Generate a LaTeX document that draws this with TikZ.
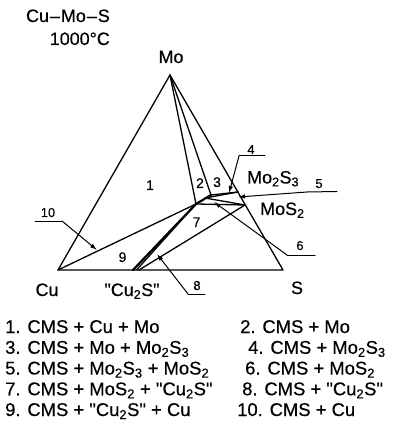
\documentclass[tikz,border=0pt]{standalone}
\usepackage{fontspec}
\setmainfont{Liberation Sans}[FakeBold=0.4]
\usetikzlibrary{arrows.meta}
\newcommand{\qq}{\textquotedbl}
\begin{document}
\begin{tikzpicture}[x=1bp,y=-1bp,line join=round,line cap=round,
  ph/.style={line width=1.3bp},
  thk/.style={line width=2.2bp},
  lead/.style={line width=1bp},
  ar/.style={lead,-{Latex[length=7bp,width=4.5bp]}},
  big/.style={font=\fontsize{18}{20}\selectfont,inner sep=0pt},
  lst/.style={font=\fontsize{18.5}{20}\selectfont,inner sep=0pt,anchor=base west},
  reg/.style={font=\fontsize{14}{16}\selectfont,inner sep=0pt,anchor=base},
  num/.style={font=\fontsize{13}{15}\selectfont,inner sep=0pt,anchor=base}]
\useasboundingbox (0,0) rectangle (400,435);
% vertices and phase points
\coordinate (Mo) at (170,75);
\coordinate (Cu) at (58,270);
\coordinate (S) at (283,270);
\coordinate (C1) at (196,204);
\coordinate (C2) at (211,195);
\coordinate (Cm) at (205,198);
\coordinate (M23) at (238,192);
\coordinate (M12) at (245,205);
\coordinate (Ka) at (133,270);
\coordinate (Kb) at (136.5,270);
\coordinate (Kc) at (139,270);
% triangle
\draw[ph] (Mo) -- (Cu) -- (S) -- cycle;
% tie lines
\draw[ph] (Mo) -- (C1);
\draw[ph] (Mo) -- (C2);
\draw[ph] (Cu) -- (C1);
\draw[thk] (C1) -- (C2);
\draw[ph] (C2) -- (M23);
\draw[ph] (Cm) -- (M23);
\draw[ph] (Cm) -- (M12);
\draw[ph] (C1) -- (M12);
\draw[thk] (Ka) -- (C1);
\draw[ph] (Kb) -- (C1);
\draw[ph] (Kc) -- (M12);
% leaders
\coordinate (a4) at (239,156); \coordinate (b4) at (265,156); \coordinate (t4) at (229,193);
\coordinate (a5) at (307,192); \coordinate (b5) at (337,191.5); \coordinate (t5) at (238,197);
\coordinate (a6) at (287,255); \coordinate (b6) at (315,255); \coordinate (t6) at (214,202);
\coordinate (a8) at (188,294); \coordinate (b8) at (205,294); \coordinate (t8) at (157,254);
\coordinate (a10) at (62,221); \coordinate (b10) at (35,221); \coordinate (t10) at (97,250);
\draw[lead] (b4) -- (a4); \draw[ar] (a4) -- (t4);
\draw[lead] (b5) -- (a5); \draw[ar] (a5) -- (t5);
\draw[lead] (b6) -- (a6); \draw[ar] (a6) -- (t6);
\draw[lead] (b8) -- (a8); \draw[ar] (a8) -- (t8);
\draw[lead] (b10) -- (a10); \draw[ar] (a10) -- (t10);
% leader numbers
\node[num] (n4) at (251,154) {4};
\node[num] (n5) at (319,188) {5};
\node[num] (n6) at (300,250) {6};
\node[num] (n8) at (197,290) {8};
\node[num] (n10) at (48,217) {10};
% region numbers
\node[reg] (r1) at (150,190) {1};
\node[reg] (r2) at (200,188) {2};
\node[reg] (r3) at (217,187) {3};
\node[reg] (r7) at (196.5,227) {7};
\node[reg] (r9) at (122.5,262) {9};
% labels
\node[big,anchor=base east] (t1) at (110,22) {Cu\kern1pt–\kern1ptMo\kern1pt–\kern1ptS};
\node[big,anchor=base east] (t2) at (110,45) {1000°C};
\node[big,anchor=base] (lMo) at (171,63) {Mo};
\node[big,anchor=base] (lCu) at (47,296) {Cu};
\node[big,anchor=base] (lCuS) at (132,296) {\qq Cu\textsubscript{2}S\qq};
\node[big,anchor=base] (lS) at (297,294) {S};
\node[big,anchor=base west] (lM23) at (247,183.5) {Mo\textsubscript{2}S\textsubscript{3}};
\node[big,anchor=base west] (lM12) at (260,215) {MoS\textsubscript{2}};
% legend
\node[lst] (i1) at (5,333) {1. CMS + Cu + Mo};
\node[lst] (i3) at (5,353.75) {3. CMS + Mo + Mo\textsubscript{2}S\textsubscript{3}};
\node[lst] (i5) at (5,374.5) {5. CMS + Mo\textsubscript{2}S\textsubscript{3} + MoS\textsubscript{2}};
\node[lst] (i7) at (5,395.25) {7. CMS + MoS\textsubscript{2} + \qq Cu\textsubscript{2}S\qq};
\node[lst] (i9) at (5,416) {9. CMS + \qq Cu\textsubscript{2}S\qq{} + Cu};
\node[lst] (i2) at (240,333) {2. CMS + Mo};
\node[lst] (i4) at (248,353.75) {4. CMS + Mo\textsubscript{2}S\textsubscript{3}};
\node[lst] (i6) at (245,374.5) {6. CMS + MoS\textsubscript{2}};
\node[lst] (i8) at (242,395.25) {8. CMS + \qq Cu\textsubscript{2}S\qq};
\node[lst] (i10) at (237,416) {10. CMS + Cu};
\end{tikzpicture}
\end{document}
